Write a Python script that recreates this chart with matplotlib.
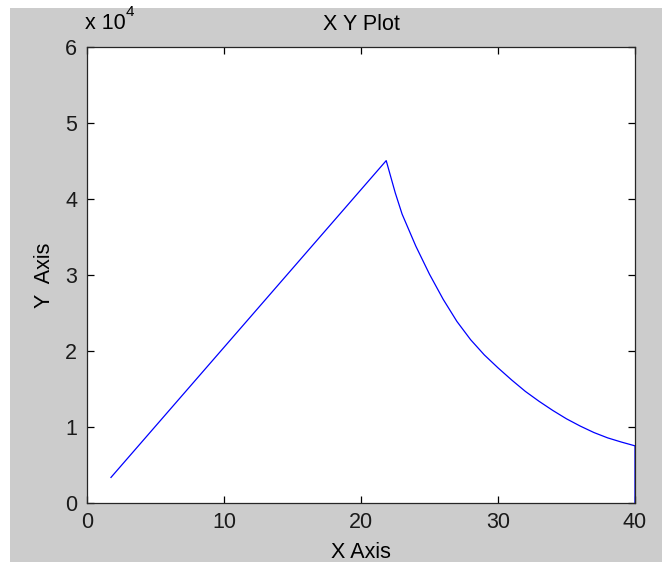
import matplotlib
matplotlib.use("Agg")

import matplotlib.pyplot as plt
from matplotlib.patches import Rectangle

plt.rcParams["font.family"] = ["Liberation Sans", "DejaVu Sans"]

x_vals = [1.75, 21.84, 22.5, 23.0, 24.0, 25.0, 26.0, 27.0, 28.0, 29.0, 30.0,
          31.0, 32.0, 33.0, 34.0, 35.0, 36.0, 37.0, 38.0, 39.0, 40.0, 40.0]
y_vals = [3400, 45030, 40800, 38000, 33800, 30100, 26800, 23900, 21500, 19500,
          17800, 16200, 14700, 13400, 12200, 11100, 10150, 9300, 8600, 8050,
          7550, 0]

x_ticks = [0, 10, 20, 30, 40]
y_ticks = [0, 10000, 20000, 30000, 40000, 50000, 60000]
y_tick_labels = ["0", "1", "2", "3", "4", "5", "6"]

W, H = 662, 562
fig = plt.figure(figsize=(W / 100, H / 100), dpi=100, facecolor="white")

# grey MATLAB-style figure area
fig.patches.append(Rectangle((10 / W, 0), 1 - 10 / W, (H - 8) / H,
                             transform=fig.transFigure, facecolor="#cccccc",
                             edgecolor="none", zorder=-10))

ax = fig.add_axes([87 / W, (H - 503.3) / H, (635 - 87) / W, (503.3 - 46.7) / H])
ax.set_zorder(5)
ax.set_facecolor("white")
ax.plot(x_vals, y_vals, color="#0000ff", linewidth=0.9, clip_on=False)

ax.set_xlim(0, 40)
ax.set_ylim(0, 60000)
ax.set_xticks(x_ticks)
ax.set_yticks(y_ticks)
ax.set_yticklabels(y_tick_labels)
ax.tick_params(direction="in", length=5, width=0.9, top=True, right=True,
               labelsize=15.5, colors="black", labelcolor="#1a1a1a")
ax.tick_params(axis="x", pad=6)
ax.tick_params(axis="y", pad=7)
for s in ax.spines.values():
    s.set_linewidth(0.9)
    s.set_color("#262626")

fs = 15.5
fig.text(361 / W, 1 - 24 / H, "X Y Plot", ha="center", va="center", fontsize=fs)
fig.text(361 / W, 1 - 553 / H, "X Axis", ha="center", va="center", fontsize=fs)
fig.text(45 / W, 1 - 275 / H, "Y  Axis", ha="center", va="center",
         rotation=90, fontsize=fs)
fig.text(85 / W, 1 - 29 / H, "x 10", ha="left", va="baseline", fontsize=fs)
fig.text(126 / W, 1 - 16 / H, "4", ha="left", va="baseline", fontsize=11)

fig.savefig("out.png", dpi=100, facecolor=fig.get_facecolor())
